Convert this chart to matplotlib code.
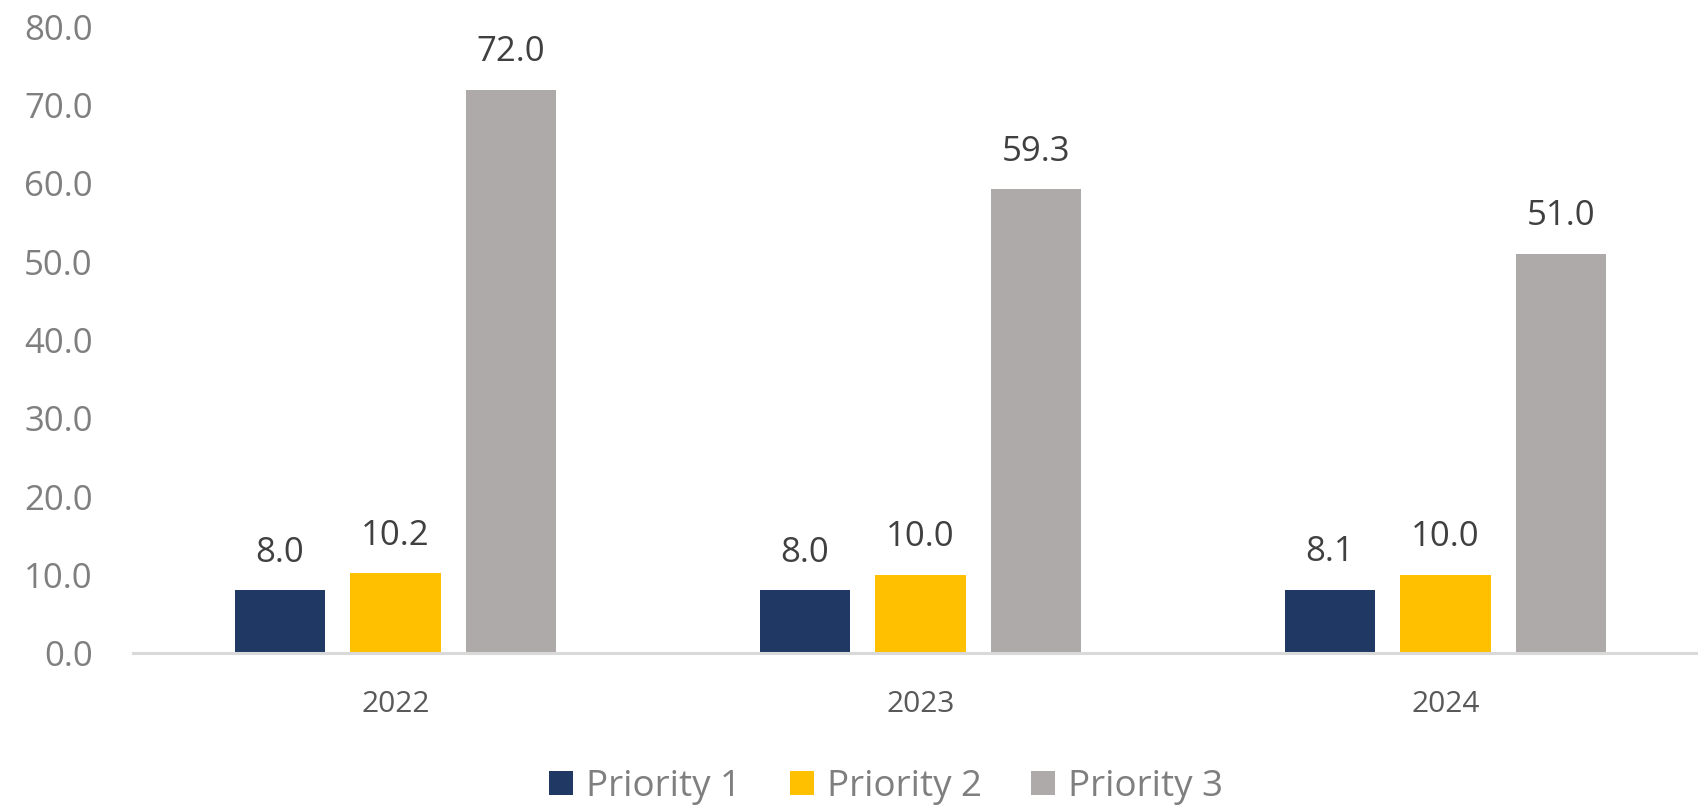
import matplotlib
matplotlib.use("Agg")
import matplotlib.pyplot as plt
import numpy as np

plt.rcParams['font.family'] = ['Open Sans', 'DejaVu Sans']

years = ['2022', '2023', '2024']
series_names = ['Priority 1', 'Priority 2', 'Priority 3']
priority1 = [8.0, 8.0, 8.1]
priority2 = [10.2, 10.0, 10.0]
priority3 = [72.0, 59.3, 51.0]
colors = ['#203864', '#FFC000', '#AEAAAA']

fig = plt.figure(figsize=(16.98, 8.07), dpi=100)
# axes runs a bit past the right edge, like the original
ax = fig.add_axes([133/1698, 1 - 653/807, 1575/1698, (653 - 27)/807])

x = np.arange(len(years))
width = 0.172
offsets = [-0.22, 0.0, 0.22]
for vals, off, c, name in zip([priority1, priority2, priority3], offsets, colors, series_names):
    bars = ax.bar(x + off, vals, width, color=c, label=name, zorder=2)
    for b, v in zip(bars, vals):
        ax.annotate(f'{v:.1f}', (b.get_x() + b.get_width()/2, v),
                    xytext=(0, 20.5), textcoords='offset points',
                    ha='center', va='baseline', fontsize=25, color='#404040')

ax.set_xlim(-0.5, 2.5)
ax.set_ylim(0, 80)
ax.set_yticks(np.arange(0, 81, 10))
ax.set_yticklabels([f'{t:.1f}' for t in np.arange(0, 81, 10)])
ax.set_xticks(x)
ax.set_xticklabels(years)

ax.tick_params(axis='y', length=0, pad=29, labelsize=25, labelcolor='#7f7f7f')
ax.tick_params(axis='x', length=0, pad=27, labelsize=21.5, labelcolor='#595959')

for s in ['top', 'right', 'left']:
    ax.spines[s].set_visible(False)
ax.spines['bottom'].set_color('#d9d9d9')
ax.spines['bottom'].set_linewidth(2.2)

leg = fig.legend(loc='center', bbox_to_anchor=(886/1698, 1 - 787/807), ncol=3,
                 frameon=False, fontsize=26.5, handlelength=0.65, handleheight=0.65,
                 handletextpad=0.35, columnspacing=1.33, borderaxespad=0)
for t in leg.get_texts():
    t.set_color('#7f7f7f')

fig.savefig('out.png', dpi=100)
